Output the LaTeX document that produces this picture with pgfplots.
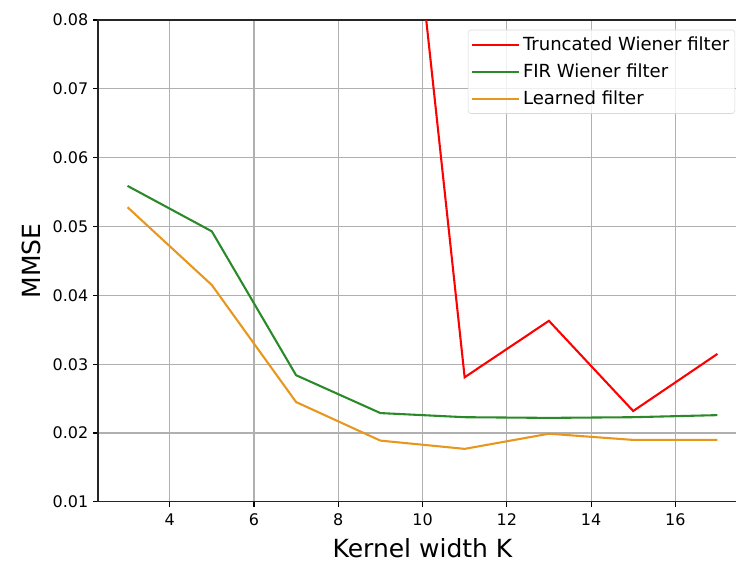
\documentclass[border=0pt]{standalone}
\usepackage{fontspec}
\setmainfont{DejaVu Sans}
\usepackage{pgfplots}
\pgfplotsset{compat=1.18}
\definecolor{cred}{HTML}{FF0000}
\definecolor{cgreen}{HTML}{2A8A2A}
\definecolor{corange}{HTML}{E8971E}
\definecolor{cgrid}{HTML}{B0B0B0}
\begin{document}
\begin{tikzpicture}
\begin{axis}[
  at={(0,0)}, anchor=south west,
  scale only axis,
  width=467.3pt, height=347pt,
  xmin=2.3, xmax=17.7,
  ymin=0.01, ymax=0.08,
  xtick={4,6,8,10,12,14,16},
  ytick={0.01,0.02,0.03,0.04,0.05,0.06,0.07,0.08},
  yticklabel style={/pgf/number format/.cd, fixed, fixed zerofill, precision=2},
  scaled y ticks=false,
  /pgf/number format/assume math mode=true,
  tick label style={font=\fontsize{11.5}{13}\selectfont},
  xticklabel style={yshift=-1.5pt},
  tick align=outside,
  tick pos=left,
  major tick length=3.5pt,
  every tick/.style={black, line width=0.8pt},
  axis line style={line width=0.8pt, black!85},
  grid=major,
  major grid style={cgrid, line width=0.8pt},
  xlabel={Kernel width K},
  ylabel={MMSE},
  label style={font=\fontsize{18}{21}\selectfont},
  xlabel style={yshift=-2pt},
  ylabel style={yshift=2pt},
  legend cell align=left,
  legend style={
    at={(rel axis cs:1,1)}, anchor=north east,
    xshift=-8.5pt, yshift=-7pt,
    font=\fontsize{13}{15}\selectfont,
    draw=black!15, fill=white, fill opacity=0.8, text opacity=1,
    rounded corners=2pt,
    inner xsep=2pt, inner ysep=3pt,
    row sep=4pt,
  },
  legend image code/.code={\draw[#1, line width=1.5pt] (0pt,0pt) -- (28pt,0pt); \path (0pt,0pt) -- (34pt,0pt);},
]
\addplot[cred, line width=1.5pt] coordinates {
  (9,0.142) (11,0.0281) (13,0.0363) (15,0.0232) (17,0.0315)
};
\addlegendentry{Truncated Wiener filter}
\addplot[cgreen, line width=1.5pt] coordinates {
  (3,0.0559) (5,0.0493) (7,0.0284) (9,0.0229) (11,0.0223) (13,0.0222) (15,0.0223) (17,0.0226)
};
\addlegendentry{FIR Wiener filter}
\addplot[corange, line width=1.5pt] coordinates {
  (3,0.0528) (5,0.0415) (7,0.0245) (9,0.0189) (11,0.0177) (13,0.0199) (15,0.0190) (17,0.0190)
};
\addlegendentry{Learned filter}
\end{axis}
\pgfresetboundingbox
\path[use as bounding box] (-70.6pt,-43.9pt) rectangle (459.4pt,361.4pt);
\end{tikzpicture}
\end{document}
